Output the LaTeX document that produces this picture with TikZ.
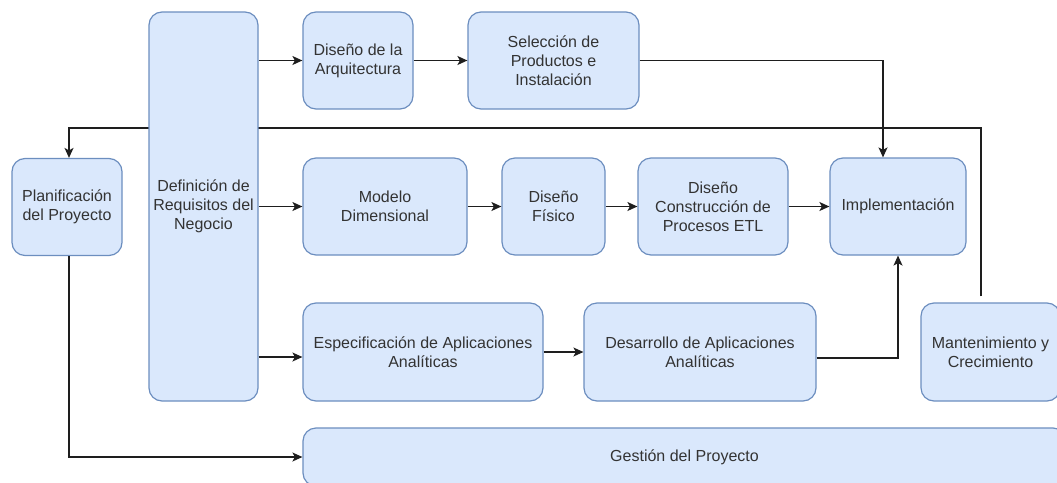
\documentclass[tikz,border=0pt]{standalone}
\usepackage{fontspec}
\setmainfont{Liberation Sans}
\usetikzlibrary{arrows.meta,backgrounds}
\definecolor{boxfill}{HTML}{DAE8FC}
\definecolor{boxdraw}{HTML}{6C8EBF}
\definecolor{txt}{HTML}{333333}
\definecolor{lin}{HTML}{1E1E1E}
\begin{document}
\begin{tikzpicture}[x=1pt,y=-1pt,
  blk/.style={draw=boxdraw,fill=boxfill,line width=1.2pt,rounded corners=13pt,
    inner sep=0pt,align=center,text=txt,font=\fontsize{16}{19}\selectfont},
  arr/.style={draw=lin,line width=1.3pt,-{Stealth[length=10pt,width=9pt,inset=2.5pt]}},
  lnk/.style={draw=lin,line width=1.3pt}]
\useasboundingbox (0,0) rectangle (1057,482);
\node[blk,minimum width=110pt,minimum height=97pt] (plan) at (67,207) {Planificación\\del Proyecto};
\node[blk,minimum width=109pt,minimum height=389pt] (defn) at (203.5,206.5) {Definición de\\Requisitos del\\Negocio};
\node[blk,minimum width=110pt,minimum height=97pt] (arq) at (358,60.5) {Diseño de la\\Arquitectura};
\node[blk,minimum width=171pt,minimum height=97pt] (sel) at (553.5,60.5) {Selección de\\Productos e\\Instalación};
\node[blk,minimum width=164pt,minimum height=97pt] (mod) at (385,206.5) {Modelo\\Dimensional};
\node[blk,minimum width=103pt,minimum height=97pt] (fis) at (553.5,206.5) {Diseño\\Físico};
\node[blk,minimum width=150pt,minimum height=97pt] (etl) at (713,206.5) {Diseño\\Construcción de\\Procesos ETL};
\node[blk,minimum width=136pt,minimum height=97pt] (imp) at (898,206.5) {Implementación};
\node[blk,minimum width=240pt,minimum height=98pt] (esp) at (423,352) {Especificación de Aplicaciones\\Analíticas};
\node[blk,minimum width=232pt,minimum height=98pt] (des) at (700,352) {Desarrollo de Aplicaciones\\Analíticas};
\node[blk,minimum width=139pt,minimum height=98pt] (man) at (990.5,352) {Mantenimiento y\\Crecimiento};
\node[blk,minimum width=763pt,minimum height=58pt] (ges) at (684.5,457) {Gestión del Proyecto};
\coordinate (loop) at (981,128);
\begin{pgfonlayer}{background}
\draw[arr] ([xshift=-9.5pt,yshift=6pt]man.north) -- (loop) -| ([xshift=2pt]plan.north);
\end{pgfonlayer}
\draw[arr] (defn.east |- arq.west) -- (arq.west);
\draw[arr] (arq.east) -- (sel.west);
\draw[arr] (sel.east) -| ([xshift=-15pt]imp.north);
\draw[arr] (defn.east) -- (mod.west);
\draw[arr] (mod.east) -- (fis.west);
\draw[arr] (fis.east) -- (etl.west);
\draw[arr] (etl.east) -- (imp.west);
\draw[arr] ([yshift=-5pt]defn.east |- esp.west) -- ([yshift=-5pt]esp.west);
\draw[arr] (esp.east) -- (des.west);
\draw[arr] ([yshift=-6pt]des.east) -| (imp.south);
\draw[arr] ([xshift=2pt]plan.south) |- (ges.west);
\end{tikzpicture}
\end{document}
